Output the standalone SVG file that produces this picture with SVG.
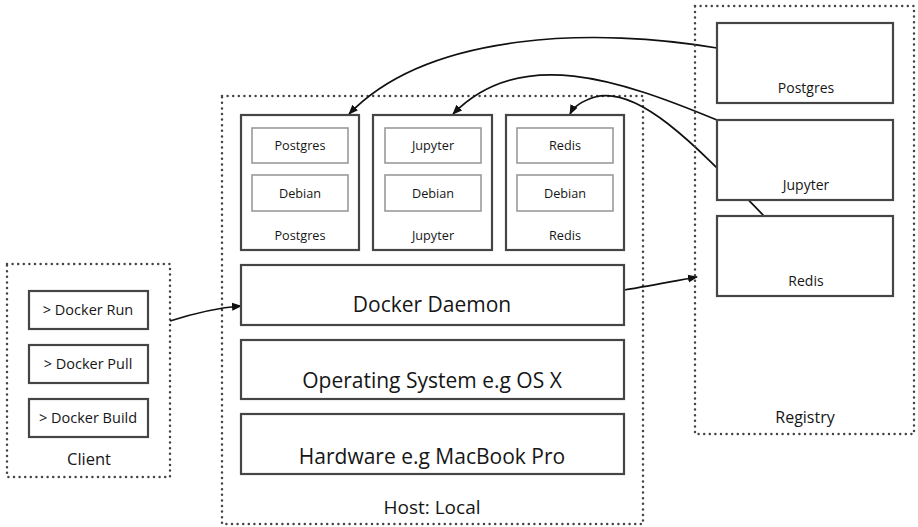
<svg xmlns="http://www.w3.org/2000/svg" width="918" height="527" viewBox="0 0 918 527">
<style>
.dot{fill:none;stroke:#444;stroke-width:2.5;stroke-linecap:round;stroke-dasharray:0 5.6}
.box{fill:#fff;stroke:#454545;stroke-width:2.2}
.inner{fill:#fff;stroke:#9a9a9a;stroke-width:1.6}
.con{fill:none;stroke:#111;stroke-width:1.7}
text{font-family:"Open Sans","Noto Sans","Liberation Sans",sans-serif;fill:#161616;text-anchor:middle}
.s{font-size:12.7px}
.c{font-size:14.5px}
.l{font-size:21px}
.r{font-size:14px}
</style>
<defs>
<marker id="ah" viewBox="0 0 10 10" refX="9" refY="5" markerWidth="10" markerHeight="10" markerUnits="userSpaceOnUse" orient="auto">
<path d="M0,1 L10,5 L0,9 Z" fill="#111"/>
</marker>
</defs>
<rect x="0" y="0" width="918" height="527" fill="#fff"/>

<g id="client">
<rect class="dot" x="7" y="264" width="163" height="213"/>
<text x="89" y="465" style="font-size:16.5px">Client</text>
</g>
<g id="docker-run"><rect class="box" x="29" y="291" width="119" height="38"/><text class="c" x="88" y="315">&gt; Docker Run</text></g>
<g id="docker-pull"><rect class="box" x="29" y="345" width="119" height="38"/><text class="c" x="88" y="369">&gt; Docker Pull</text></g>
<g id="docker-build"><rect class="box" x="29" y="399" width="119" height="38"/><text class="c" x="88" y="423">&gt; Docker Build</text></g>

<g id="host">
<rect class="dot" x="222" y="96" width="421" height="428"/>
<text x="432" y="514" style="font-size:19px">Host: Local</text>
</g>

<g id="connectors">
<path class="con" d="M170,321 C195,313 215,308 241,306" marker-end="url(#ah)"/>
<path class="con" d="M624,290 C650,286 675,281 697,277" marker-end="url(#ah)"/>
<path class="con" d="M717,48 C600,28 430,30 349,114" marker-end="url(#ah)"/>
<path class="con" d="M717,120 C620,80 520,45 453,114" marker-end="url(#ah)"/>
<path class="con" d="M764,216 C700,150 640,85 595,97 C582,101 574,106 570,114" marker-end="url(#ah)"/>
</g>

<g id="c-postgres">
<rect class="box" x="241" y="115" width="118" height="135"/>
<rect class="inner" x="252" y="128" width="96" height="35"/><text class="s" x="300" y="150">Postgres</text>
<rect class="inner" x="252" y="175" width="96" height="36"/><text class="s" x="300" y="198">Debian</text>
<text class="s" x="300" y="240">Postgres</text>
</g>
<g id="c-jupyter">
<rect class="box" x="373" y="115" width="119" height="135"/>
<rect class="inner" x="385" y="128" width="96" height="35"/><text class="s" x="433" y="150">Jupyter</text>
<rect class="inner" x="385" y="175" width="96" height="36"/><text class="s" x="433" y="198">Debian</text>
<text class="s" x="433" y="240">Jupyter</text>
</g>
<g id="c-redis">
<rect class="box" x="506" y="115" width="118" height="135"/>
<rect class="inner" x="517" y="128" width="96" height="35"/><text class="s" x="565" y="150">Redis</text>
<rect class="inner" x="517" y="175" width="96" height="36"/><text class="s" x="565" y="198">Debian</text>
<text class="s" x="565" y="240">Redis</text>
</g>

<g id="daemon"><rect class="box" x="241" y="265" width="383" height="60"/><text class="l" x="432" y="312">Docker Daemon</text></g>
<g id="os"><rect class="box" x="241" y="340" width="383" height="59"/><text class="l" x="432" y="388">Operating System e.g OS X</text></g>
<g id="hardware"><rect class="box" x="241" y="414" width="383" height="60"/><text class="l" x="432" y="464">Hardware e.g MacBook Pro</text></g>

<g id="registry">
<rect class="dot" x="695" y="6" width="219" height="428"/>
<text x="805" y="423" style="font-size:16px">Registry</text>
</g>
<g id="r-postgres"><rect class="box" x="717" y="23" width="176" height="80"/><text class="r" x="806" y="93">Postgres</text></g>
<g id="r-jupyter"><rect class="box" x="717" y="120" width="176" height="80"/><text class="r" x="806" y="190">Jupyter</text></g>
<g id="r-redis"><rect class="box" x="717" y="216" width="176" height="80"/><text class="r" x="806" y="286">Redis</text></g>
</svg>
